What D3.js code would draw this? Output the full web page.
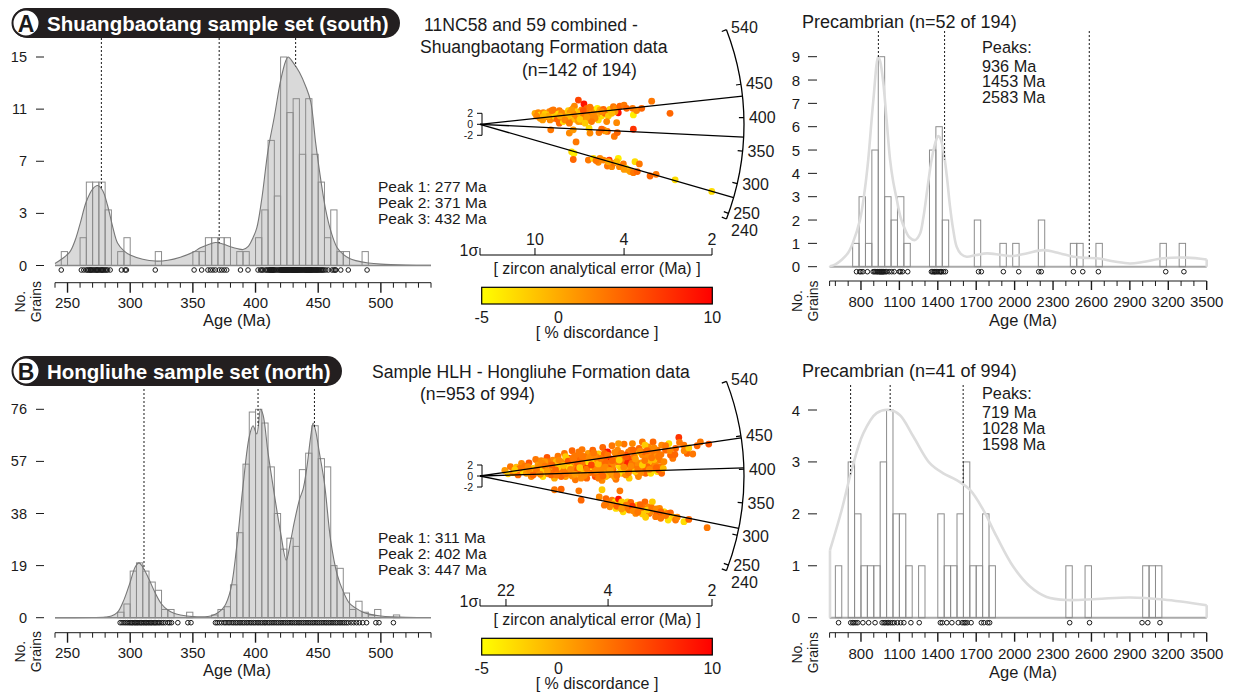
<!DOCTYPE html>
<html>
<head>
<meta charset="utf-8">
<script src="https://cdn.jsdelivr.net/npm/d3@7"></script>
<style>
body { margin: 0; background: #fff; }
text { font-family: "Liberation Sans", Arial, sans-serif; fill: #1a1a1a; }
</style>
</head>
<body>
<div class="canvas"></div>
<script>
// ---- histogram data (5 Ma bins, start age / count) ----
const southHist = [[245,1],[260,2],[265,6],[270,6],[275,6],[280,4],[290,1],[295,2],[320,1],[350,1],[355,1],[360,2],[365,2],[370,2],[375,2],[385,1],[390,1],[400,2],[405,4],[410,9],[415,5],[420,15],[425,11],[430,12],[435,8],[440,12],[445,8],[450,6],[455,2],[460,4],[465,1],[470,1],[485,1]];
const northHist = [[290,2],[295,5],[300,17],[305,20],[310,17],[315,13],[320,10],[325,3],[330,3],[345,2],[365,1],[370,3],[375,4],[380,12],[385,31],[390,56],[395,75],[400,76],[405,71],[410,55],[415,38],[420,25],[425,29],[430,26],[435,54],[440,60],[445,70],[450,58],[455,55],[460,19],[465,18],[470,9],[475,3],[480,6],[485,2],[490,1],[495,3],[510,1]];

// ---- density curves (age, count-scaled) ----
const southKde = [[240,0.15],[246,0.5],[252,1.0],[256,1.8],[260,3.0],[265,4.6],[270,5.5],[274,5.75],[278,5.4],[282,4.3],[286,2.8],[290,1.6],[295,1.05],[300,0.75],[310,0.45],[320,0.32],[330,0.38],[340,0.6],[350,0.95],[356,1.27],[362,1.5],[368,1.65],[374,1.55],[380,1.35],[386,1.2],[390,1.15],[394,1.35],[398,2.0],[401,2.7],[405,4.8],[410,8.3],[415,10.7],[420,13.3],[424,14.7],[426,15.0],[430,14.6],[435,13.9],[440,12.9],[444,11.8],[448,8.8],[452,6.2],[456,4.0],[460,2.5],[465,1.3],[470,0.8],[475,0.5],[480,0.35],[490,0.18],[500,0.1],[520,0.04],[540,0.02]];
const northKde = [[240,0.03],[270,0.05],[280,0.2],[285,0.6],[290,2],[295,6.5],[300,13],[304,18.5],[307,20],[310,18.5],[315,14],[320,9],[325,5],[330,2.8],[335,1.6],[340,1.0],[345,0.6],[350,0.4],[356,0.3],[362,0.45],[366,0.9],[370,1.8],[375,4],[380,10],[385,26],[390,48],[395,66],[398,70],[401,67],[404,76],[406,74],[410,60],[415,45],[420,31],[424.5,21],[428,28],[431,35],[435,43],[438,47],[441,55],[444,66],[446,71],[448,68],[451,60],[455,49],[460,28],[465,16],[470,9.5],[475,5.2],[480,3.5],[485,2.2],[490,1.4],[500,0.6],[510,0.3],[520,0.15],[540,0.05]];

const southPeaks = [277, 371, 432];
const northPeaks = [311, 402, 447];

// ---- single grain ages (dot rows) ----
const southAges = [245,261,263,265,266,267,268,268.5,269,270,271,272,273,273.5,274,275,276,277,277.5,278,279,280,281,282,284,293,296,297,320,351,357,362,364,366,368,371,373,375,377,388,394,402,404,405,406,408,409,410,411,411.5,412,412.8,413,413.6,414,414.5,415,416,417,418.2,419,420,420.3,420.8,421,421.4,421.7,422.1,422.4,422.9,423,423.3,423.8,424,424.4,424.8,425,425.6,426,426.4,427.1,427.5,428,428.6,429,429.3,429.8,430,430.5,430.8,431.3,431.6,432.1,432.4,432.9,433.2,433.6,434.1,434.5,435,435.7,436.2,436.8,437.5,438,438.9,439.4,440,440.3,440.9,441.2,441.8,442.1,442.7,443,443.6,444,444.4,444.8,445.2,446,446.6,447.3,448,448.5,449.1,449.7,450.4,451.2,452,452.9,453.6,454.5,456,458,461,462.5,463.5,464,468,474,489];
const northAges = [292,293.5,295,296.4,297.8,299.1,300.2,301.3,302.1,303.4,304.2,305.3,306.1,307.2,308.4,309.1,310.3,311.2,312.4,313.1,314.3,315.2,316.4,317.1,318.3,319.4,320.2,321.3,322.5,323.6,325.1,326.4,328,330.2,331.5,333,338,346,348.5,368,369.4,371.1,373,375,376.4,378.1,379.5,381.2,382.6,384.1,385.4,387,388.3,389.8,391.1,392.7,394,395.6,396.9,398.4,399.7,401.3,402.6,404.1,405.5,407,408.2,409.8,411.1,412.6,414,415.4,416.9,418.3,419.8,421.1,422.6,424,425.5,426.8,428.3,429.6,431.1,432.5,434,435.3,436.8,438.2,439.6,441.1,442.5,443.9,445.4,446.7,448.2,449.6,451,452.5,453.9,455.4,456.7,458.2,459.6,461,462.4,463.9,465.2,466.8,468.1,469.6,471,472.5,474,476.3,478.4,480.6,482.8,485.5,488.6,496,498.5,510];

// ---- Precambrian panels (50 Ma bins) ----
const southPreHist = [[735,1],[785,3],[835,1],[885,5],[935,9],[985,3],[1035,2],[1085,3],[1135,1],[1335,5],[1385,6],[1435,2],[1685,2],[1885,1],[1985,1],[2185,2],[2435,1],[2485,1],[2635,1],[3135,1],[3285,1]];
const northPreHist = [[600,1],[700,3],[750,2],[800,1],[850,1],[900,1],[950,3],[1000,4],[1050,2],[1100,2],[1150,1],[1250,1],[1400,2],[1450,1],[1500,1],[1550,2],[1600,3],[1650,1],[1700,1],[1750,2],[1800,1],[2400,1],[2550,1],[3000,1],[3050,1],[3100,1]];
const southPreKde = [[558,0.02],[600,0.1],[650,0.3],[700,0.6],[735,1.0],[792,2.0],[830,3.3],[857,4.6],[896,7.1],[935,9.0],[950,8.8],[974,7.9],[1000,6.3],[1027,4.6],[1050,3.7],[1079,2.9],[1110,2.1],[1144,1.6],[1180,1.25],[1222,1.14],[1260,1.4],[1287,2.1],[1320,3.4],[1352,4.6],[1380,5.3],[1404,5.6],[1420,5.5],[1443,5.0],[1470,3.9],[1495,2.6],[1520,1.6],[1547,0.86],[1580,0.55],[1625,0.43],[1700,0.5],[1782,0.57],[1900,0.5],[1990,0.46],[2100,0.58],[2224,0.71],[2350,0.58],[2459,0.43],[2550,0.38],[2641,0.36],[2780,0.22],[2901,0.14],[3000,0.2],[3162,0.36],[3344,0.39],[3500,0.31]];
const northPreKde = [[558,1.3],[649,2.07],[727,2.84],[818,3.55],[922,3.94],[1027,4.0],[1105,3.9],[1209,3.49],[1339,2.97],[1443,2.78],[1547,2.65],[1652,2.46],[1756,2.07],[1860,1.56],[1990,0.98],[2120,0.6],[2250,0.4],[2407,0.34],[2641,0.36],[2901,0.39],[3162,0.35],[3500,0.24]];
const southPrePeaks = [936, 1453, 2583];
const northPrePeaks = [719, 1028, 1598];
const southPreAges = [765,790,800,815,850,895,905,915,925,930,940,945,950,955,960,965,970,975,980,990,1000,1020,1040,1060,1100,1110,1125,1165,1350,1360,1370,1375,1380,1390,1400,1410,1420,1425,1430,1445,1460,1718,1740,1912,2032,2188,2208,2459,2532,2654,3180,3322];
const northPreAges = [625,720,735,745,760,775,815,860,910,965,980,990,1005,1015,1030,1045,1060,1085,1110,1135,1190,1255,1420,1435,1470,1510,1560,1590,1605,1615,1630,1660,1740,1760,1790,1805,2430,2585,2995,3040,3135];

// ---- radial plots: [precision (0-100), standardised estimate, % discordance] ----
const radialSouth = [[23.7,2.0,0],[25.1,2.1,2],[26.1,1.7,-3],[27.3,2.1,2],[28.7,1.4,3],[29.9,2.3,2],[30.5,1.9,-3],[31.6,1.1,3],[33.0,1.7,-2],[34.2,2.5,3],[34.2,0.2,4],[35.2,1.1,2],[35.9,2.0,-3],[37.1,1.4,1],[38.1,2.5,-2],[38.8,0.7,2],[39.5,1.7,-3],[40.2,2.9,3],[40.7,3.3,2],[41.7,2.3,-2],[42.4,4.4,6],[42.8,1.3,2],[43.8,2.6,2],[44.8,3.7,9],[45.3,1.7,-3],[46.0,2.9,4],[46.7,0.8,3],[47.4,2.3,-3],[48.1,1.4,2],[48.9,2.6,1],[49.6,1.7,-2],[50.6,2.9,-4],[51.4,2.1,2],[52.4,1.5,-3],[53.9,2.0,4],[54.6,2.3,3],[56.0,2.7,-2],[57.5,3.2,3],[58.6,2.9,2],[59.6,2.1,9],[60.3,3.3,4],[62.1,3.5,3],[66.1,1.7,-4],[65.8,2.9,3],[67.5,2.5,2],[69.7,2.9,4],[74.0,4.2,3],[81.9,2.0,4],[35.9,0.5,-3],[30.2,0.8,2],[37.4,1.1,1],[40.9,0.9,-1],[43.8,0.5,2],[31.6,2.6,3],[28.0,1.9,-2],[47.1,1.7,2],[50.3,1.4,0],[25.9,1.1,1],[33.8,1.9,-3],[41.7,1.4,2],[38.8,2.1,1],[43.1,2.0,-1],[46.0,2.1,3],[48.9,1.9,2],[51.7,2.6,0],[53.2,2.7,4],[35.9,1.3,1],[32.3,1.4,-2],[40.2,1.9,2],[44.5,2.5,5],[47.4,3.1,3],[38.1,1.5,-1],[35.2,2.1,2],[29.5,1.5,0],[51.0,0.8,-3],[42.4,0.5,1],[49.6,1.1,2],[55.3,1.5,-2],[44.5,1.3,3],[39.5,2.6,1],[33.3,0.9,4],[27.3,1.4,-1],[24.4,1.5,2],[30.9,2.5,3],[58.2,2.3,1],[30.5,-1.0,3],[38.5,-1.6,2],[47.0,-0.7,-3],[51.3,-1.5,3],[53.2,-1.0,2],[54.9,-1.3,4],[57.9,-2.2,3],[58.9,0.3,2],[59.2,-1.5,4],[66.1,-0.9,7],[41.4,-3.2,3],[53.9,-1.2,1],[39.5,-5.0,-3],[40.5,-5.3,-4],[40.2,-6.4,4],[46.7,-6.5,3],[48.9,-6.2,-3],[51.0,-6.9,2],[53.2,-6.5,2],[54.9,-7.6,3],[55.7,-6.5,7],[56.8,-7.7,2],[57.5,-7.1,3],[59.6,-6.2,-4],[60.1,-7.7,2],[61.8,-7.2,3],[62.9,-8.0,-3],[63.9,-8.3,-2],[64.7,-8.6,1],[66.1,-8.8,3],[66.8,-6.8,-3],[67.8,-8.6,4],[68.7,-7.2,3],[73.3,-9.4,4],[75.9,-9.1,3],[84.1,-10.1,-3],[99.9,-12.2,-3],[51.7,-6.2,2],[58.9,-6.8,-1],[62.1,-8.2,1],[50.0,-6.6,3],[55.3,-6.8,0],[47.4,-1.6,2],[52.4,-0.9,4],[40.2,-1.0,1],[34.5,1.5,0],[36.6,0.8,2],[43.1,0.9,-2],[48.1,0.5,3],[46.0,1.3,1],[52.4,2.3,2],[63.2,2.9,4],[56.8,2.0,-1],[27.0,0.8,1],[38.5,0.2,3],[45.3,0.2,-2],[54.6,0.5,2]];
const radialNorth = [[10.7,1.0,1],[12.1,0.4,-2],[13.1,1.7,3],[14.3,0.6,2],[15.7,1.6,-1],[16.4,0.2,4],[17.9,2.3,2],[18.6,0.8,-3],[19.3,1.8,3],[20,0.5,1],[21.1,2.4,5],[22.1,-0.1,2],[22.9,1.4,-2],[24,3.0,3],[25,2.0,1],[25.7,0.6,4],[26.4,2.8,2],[27.1,-0.1,-3],[27.9,1.4,3],[28.9,3.4,5],[29.3,0.4,2],[30,2.3,-1],[30.7,1.1,3],[31.4,2.9,2],[32.1,-0.4,0],[32.9,1.8,4],[33.6,3.6,3],[34.3,0.5,-2],[35,2.6,2],[35.7,1.4,6],[36.4,4.1,3],[36.9,-0.1,1],[37.4,2.3,-3],[38.3,3.2,8],[38.9,0.8,2],[39.7,4.6,4],[40.3,1.7,1],[41.1,-0.7,3],[41.4,2.8,-2],[42.1,3.8,3],[42.6,0.5,2],[43.1,2.0,5],[44,4.8,3],[44.6,1.2,-1],[45.4,3.0,2],[46,-0.4,4],[46.6,4.1,1],[47.1,2.3,3],[47.9,0.8,-3],[48.6,4.7,4],[49.3,3.2,2],[49.7,-0.1,6],[50.3,1.7,1],[51.1,4.0,-2],[51.7,2.6,3],[52.6,-0.8,2],[52.9,5.2,4],[53.6,1.2,0],[54.3,3.5,3],[55,4.4,9],[55.4,0.2,2],[56,2.3,-2],[56.9,5.5,3],[57.4,1.1,4],[58,3.0,1],[58.6,-0.6,3],[59.3,4.7,2],[60,1.8,-3],[60.7,3.6,5],[61.4,0.5,2],[62.1,5.8,3],[62.9,2.6,7],[63.6,1.2,1],[64,4.4,3],[64.3,-0.4,-2],[65,3.0,4],[65.7,5.9,2],[66.4,1.6,3],[67.1,4.1,-3],[67.9,0.4,2],[68.6,5.0,4],[69.3,2.4,1],[70,6.2,3],[70.7,1.1,5],[71.4,3.5,-2],[72.6,5.3,2],[73.6,2.3,3],[74.6,6.2,4],[75.7,4.1,1],[76.4,0.8,-3],[77.4,2.9,3],[78.3,5.6,2],[80,4.7,4],[81.4,5.9,-3],[83.1,3.2,3],[84.3,5.0,4],[85.7,7.0,7],[87.9,5.6,3],[89.3,4.1,4],[91.7,4.0,3],[93.6,5.5,4],[98.6,5.8,5],[25.7,1.7,2],[27.1,1.1,-2],[28.6,2.0,3],[30,0.8,4],[31.4,1.7,1],[32.9,2.6,-1],[34.3,1.2,3],[35.7,2.3,2],[37.1,1.1,5],[38.6,2.0,-3],[40,0.8,3],[41.4,1.6,2],[42.9,2.9,4],[44.3,0.2,1],[45.7,1.7,8],[47.1,0.6,3],[48.6,2.3,-2],[50,3.5,2],[51.4,0.5,4],[52.9,2.0,3],[54.3,-0.1,-1],[55.7,3.2,9],[57.1,2.0,2],[58.6,3.8,3],[60,0.5,-3],[61.4,2.3,4],[62.9,0.2,2],[64.3,3.2,6],[65.7,1.1,3],[67.1,2.6,-2],[68.6,1.7,3],[70,3.8,2],[71.4,0.5,4],[72.9,2.6,-1],[74.3,1.4,3],[75.7,2.0,2],[77.1,1.1,5],[21.4,1.1,2],[23.6,0.5,-1],[29.3,2.6,3],[32.1,0.5,2],[35,-0.1,4],[37.9,3.0,-2],[40.7,3.6,3],[43.6,-0.4,2],[46.4,2.6,-3],[49.3,0.4,4],[52.1,1.2,2],[55,2.3,3],[57.9,-0.1,1],[60.7,1.4,-2],[63.6,2.3,8],[66.4,3.5,3],[69.3,0.6,2],[72.1,1.7,4],[75,3.0,-1],[77.9,1.7,3],[24.3,1.1,3],[27.9,2.6,1],[30.7,0.2,4],[33.6,1.6,-2],[36.4,0.8,3],[39.3,2.6,2],[42.1,1.2,5],[45,3.5,3],[47.9,1.7,-3],[50.7,2.9,2],[53.6,4.1,4],[56.4,0.6,1],[59.3,2.6,3],[62.1,1.1,-2],[65,4.7,3],[67.9,2.3,2],[70.7,4.4,4],[73.6,0.5,-3],[76.4,4.7,3],[79.3,2.6,2],[82.1,3.8,4],[39.7,0.0,2],[45.4,0.8,-1],[51.1,-0.4,3],[56.9,1.6,2],[62.7,3.8,6],[68.3,-0.1,2],[74,4.4,3],[36.9,3.5,-2],[42.6,4.4,3],[48.3,3.8,2],[54,2.6,4],[59.7,5.9,1],[65.4,2.3,3],[71.1,5.6,-2],[76.9,3.5,3],[26.9,2.3,2],[32.6,1.1,4],[38.3,1.7,-3],[44,2.3,3],[49.7,1.2,2],[55.4,1.4,5],[61.1,3.2,3],[66.9,0.8,-2],[72.6,3.6,2],[78.3,0.5,4],[17.1,1.4,3],[15,1.1,-2],[20.7,1.7,2],[22.9,0.2,4],
  [26,0.3,2],[28,1.8,3],[29,0.9,1],[31,2.0,4],[33,0.2,3],[34,2.9,2],[36,1.9,-1],[37,0.4,3],[38,2.7,5],[39,1.2,2],[40,3.2,3],[41,0.3,1],[42,2.3,4],[43,1.5,-2],[44,3.6,3],[45,0.1,2],[46,1.3,3],[47,3.3,2],[48,2.0,6],[49,4.2,3],[50,0.9,2],[51,2.2,-1],[52,3.2,3],[53,0.0,4],[54,1.6,2],[55,3.8,3],[56,1.0,1],[57,2.8,4],[58,4.3,2],[59,0.1,3],[60,2.9,-2],[61,4.1,3],[62,1.6,2],[63,3.5,5],[64,0.6,3],[65,1.8,2],[66,4.7,4],[67,3.1,1],[68,1.2,3],[69,4.5,2],[70,2.0,-2],[71,2.8,3],[72,4.6,4],[73,1.2,2],[74,3.3,3],[75,5.1,2],[76,1.5,4],[78,3.9,3],[79,1.4,-1],[80,5.5,3],[82,4.6,2],[84,3.9,4],[86,6.1,3],[88,4.6,2],[90,5.1,-2],[95,6.2,3],
  [32.1,-2.5,3],[35,-2.4,4],[42.6,-2.7,3],[43.6,-4.4,4],[52.6,-2.5,-2],[60.3,-2.7,3],[51.4,-3.8,2],[54.3,-4.1,4],[56.9,-4.4,3],[58.3,-4.7,-3],[59.7,-4.2,9],[60.7,-5.3,2],[62.1,-5.1,3],[63.6,-4.7,-2],[65,-4.8,4],[66.4,-5.7,2],[67.9,-5.3,-3],[69.3,-6.2,3],[71.1,-4.7,4],[72.6,-5.6,2],[74.3,-4.7,-2],[75,-6.2,3],[76.4,-6.7,6],[77.4,-5.9,2],[78.6,-7.1,4],[79.3,-6.5,-3],[80.7,-6.8,3],[82.1,-6.7,4],[83.1,-7.5,-2],[84.3,-8.0,3],[87.9,-8.3,-3],[90,-7.9,4],[97.9,-9.4,3],[61.7,-6.5,-3],[64.3,-6.2,3],[67.1,-6.8,2],[70,-6.9,-2],[72.9,-6.8,4],[75.7,-7.4,3],[56,-5.6,2],[58.6,-5.9,-3],[53.6,-5.3,3],[71.4,-7.5,-2],[77.9,-7.7,3],[81.1,-8.0,-3],[62.9,-5.7,3],[65.7,-5.5,7],[68.6,-5.9,2],[61.1,-4.7,-2],[70,-5.6,3],[73.6,-6.5,2],
  [55,-4.9,3],[57,-5.1,2],[59,-5.5,4],[63,-5.3,3],[66,-6.3,2],[69,-5.2,4],[72,-6.2,-2],[74,-5.8,3],[76,-6.0,2],[78,-6.5,4],[80,-7.2,3],[85,-7.5,2],[68,-6.6,3],[61,-6.0,1]];

const arcTicks = [540, 450, 400, 350, 300, 250, 240];
const zTicks = [2, 0, -2];
const errTicksSouth = [[23.7, '10'], [62.1, '4'], [100, '2']];
const errTicksNorth = [[11.2, '22'], [55.2, '4'], [100, '2']];
const discTicks = [-5, 0, 10];

const southYTicks = [0, 3.75, 7.5, 11.25, 15];
const southYLabels = ['0', '3', '7', '11', '15'];
const northYTicks = [0, 19, 38, 57, 76];
const northYLabels = ['0', '19', '38', '57', '76'];
const southPreYTicks = [0, 1, 2, 3, 4, 5, 6, 7, 8, 9];
const northPreYTicks = [0, 1, 2, 3, 4];

// ---- layout ----
const dims = { width: 1235, height: 696 };
const centralAge = 390;
const ageSlope = 0.00256;
const arcRadius = 264;

const svg = d3.select('.canvas').append('svg')
    .attr('width', dims.width)
    .attr('height', dims.height);

const ink = '#1a1a1a';
const discColour = d3.scaleLinear().domain([-5, 10]).range(['#ffff00', '#ff0000']).interpolate(d3.interpolateRgb);

const addText = (g, x, y, str, size, opts = {}) => g.append('text')
    .attr('x', x).attr('y', y)
    .attr('font-size', size)
    .attr('dominant-baseline', 'central')
    .attr('text-anchor', opts.anchor || 'start')
    .attr('font-weight', opts.weight || 'normal')
    .style('fill', opts.fill || ink)
    .text(str);

const kdeAt = (kde, age) => {
    const i = d3.bisector(d => d[0]).left(kde, age);
    if (i <= 0) return kde[0][1];
    if (i >= kde.length) return kde[kde.length - 1][1];
    const a = kde[i - 1], b = kde[i];
    return a[1] + (b[1] - a[1]) * (age - a[0]) / (b[0] - a[0]);
};

const banner = (y, w, letter, label) => {
    svg.append('rect').attr('x', 12).attr('y', y).attr('width', w).attr('height', 30)
        .attr('rx', 15).attr('fill', '#231f20');
    svg.append('circle').attr('cx', 26).attr('cy', y + 15).attr('r', 13.5)
        .attr('fill', '#fff').attr('stroke', '#231f20').attr('stroke-width', 2);
    addText(svg, 26, y + 16, letter, 23, { anchor: 'middle', weight: 'bold' });
    addText(svg, 47, y + 15.5, label, 20.5, { weight: 'bold', fill: '#fff' });
};

const noGrains = (x1, x2, y) => {
    [['No.', x1], ['Grains', x2]].forEach(([s, x]) => {
        svg.append('text')
            .attr('transform', `translate(${x},${y}) rotate(-90)`)
            .attr('font-size', 14)
            .attr('text-anchor', 'middle')
            .attr('dominant-baseline', 'central')
            .style('fill', ink)
            .text(s);
    });
};

// ---- Phanerozoic age histogram (left) ----
const drawAgeHist = cfg => {
    const g = svg.append('g');
    const x = d3.scaleLinear().domain([240, 540]).range([55, 431]);
    const y = d3.scaleLinear().domain([0, cfg.yTicks[cfg.yTicks.length - 1]]).range([cfg.y0, cfg.yTop]);

    const area = d3.area().x(d => x(d[0])).y0(cfg.y0).y1(d => y(d[1])).curve(d3.curveCatmullRom.alpha(0.5));
    const line = d3.line().x(d => x(d[0])).y(d => y(d[1])).curve(d3.curveCatmullRom.alpha(0.5));

    g.append('path').attr('d', area(cfg.kde)).attr('fill', '#d9d9d9');
    g.selectAll('.bar').data(cfg.hist).enter().append('rect')
        .attr('x', d => x(d[0])).attr('width', d => x(d[0] + 5) - x(d[0]))
        .attr('y', d => y(d[1])).attr('height', d => cfg.y0 - y(d[1]))
        .attr('fill', 'none').attr('stroke', '#8c8c8c').attr('stroke-width', 1);
    g.append('path').attr('d', line(cfg.kde)).attr('fill', 'none').attr('stroke', '#777').attr('stroke-width', 1.1);
    g.append('line').attr('x1', x(240)).attr('x2', x(540)).attr('y1', cfg.y0).attr('y2', cfg.y0)
        .attr('stroke', '#888').attr('stroke-width', 1.4);

    // peak markers
    g.selectAll('.peak').data(cfg.peaks).enter().append('line')
        .attr('x1', d => x(d)).attr('x2', d => x(d))
        .attr('y1', cfg.peakTop).attr('y2', d => y(kdeAt(cfg.kde, d)))
        .attr('stroke', ink).attr('stroke-width', 1).attr('stroke-dasharray', '2,2');

    // grains
    g.selectAll('.grain').data(cfg.ages).enter().append('circle')
        .attr('cx', d => x(d)).attr('cy', cfg.dotsY).attr('r', 2.3)
        .attr('fill', 'none').attr('stroke', ink).attr('stroke-width', 1);

    // y ticks
    cfg.yTicks.forEach((t, i) => {
        g.append('line').attr('x1', 36).attr('x2', 44).attr('y1', y(t)).attr('y2', y(t)).attr('stroke', ink);
        addText(g, 27, y(t), cfg.yLabels[i], 14.5, { anchor: 'end' });
    });

    // x axis
    g.append('line').attr('x1', x(240)).attr('x2', x(540)).attr('y1', cfg.axisY).attr('y2', cfg.axisY).attr('stroke', ink);
    d3.range(240, 541, 10).forEach(t => {
        const major = t % 50 === 0;
        g.append('line').attr('x1', x(t)).attr('x2', x(t)).attr('y1', cfg.axisY)
            .attr('y2', cfg.axisY + (major ? 10 : 5)).attr('stroke', ink).attr('stroke-width', major ? 1.4 : 1);
        if (major && t <= 500) addText(g, x(t), cfg.axisY + 19.5, t, 15, { anchor: 'middle' });
    });
    addText(g, 237, cfg.axisY + 37.5, 'Age (Ma)', 16.5, { anchor: 'middle' });
    noGrains(20, 36, cfg.axisY + 19);

    cfg.peaks.forEach((p, i) => addText(g, 378, cfg.peakTextY + i * 15.8, `Peak ${i + 1}: ${p} Ma`, 15.5));
};

// ---- Precambrian histogram (right) ----
const drawPreHist = cfg => {
    const g = svg.append('g');
    const x = d3.scaleLinear().domain([555, 3500]).range([829.6, 1206.7]);
    const y = d3.scaleLinear().domain([0, cfg.yTicks[cfg.yTicks.length - 1]]).range([cfg.y0, cfg.yTop]);
    const line = d3.line().x(d => x(d[0])).y(d => y(d[1])).curve(d3.curveCatmullRom.alpha(0.5));

    g.append('line').attr('x1', x(555)).attr('x2', x(3500)).attr('y1', cfg.y0).attr('y2', cfg.y0)
        .attr('stroke', '#aaa').attr('stroke-width', 2);
    g.selectAll('.bar').data(cfg.hist).enter().append('rect')
        .attr('x', d => x(d[0])).attr('width', d => x(d[0] + 50) - x(d[0]))
        .attr('y', d => y(d[1])).attr('height', d => cfg.y0 - y(d[1]))
        .attr('fill', 'none').attr('stroke', '#8c8c8c').attr('stroke-width', 1);
    const k = cfg.kde;
    g.append('path').attr('d', line(k)).attr('fill', 'none').attr('stroke', '#dcdcdc').attr('stroke-width', 2.6);
    [k[0], k[k.length - 1]].forEach(d => {
        g.append('line').attr('x1', x(d[0])).attr('x2', x(d[0])).attr('y1', cfg.y0).attr('y2', y(d[1]))
            .attr('stroke', '#dcdcdc').attr('stroke-width', 2.6);
    });

    g.selectAll('.peak').data(cfg.peaks).enter().append('line')
        .attr('x1', d => x(d)).attr('x2', d => x(d))
        .attr('y1', cfg.peakTop).attr('y2', d => y(kdeAt(k, d)))
        .attr('stroke', ink).attr('stroke-width', 1).attr('stroke-dasharray', '2,2');

    g.selectAll('.grain').data(cfg.ages).enter().append('circle')
        .attr('cx', d => x(d)).attr('cy', cfg.dotsY).attr('r', 2.3)
        .attr('fill', 'none').attr('stroke', ink).attr('stroke-width', 1);

    cfg.yTicks.forEach(t => {
        g.append('line').attr('x1', 808).attr('x2', 817).attr('y1', y(t)).attr('y2', y(t)).attr('stroke', ink);
        addText(g, 800, y(t), t, 15, { anchor: 'end' });
    });

    g.append('line').attr('x1', x(555)).attr('x2', x(3500)).attr('y1', cfg.axisY).attr('y2', cfg.axisY).attr('stroke', ink);
    d3.range(600, 3501, 100).forEach(t => {
        const major = (t - 800) % 300 === 0 && t >= 800;
        g.append('line').attr('x1', x(t)).attr('x2', x(t)).attr('y1', cfg.axisY)
            .attr('y2', cfg.axisY + (major ? 9 : 5)).attr('stroke', ink).attr('stroke-width', major ? 1.4 : 1);
        if (major) addText(g, x(t), cfg.axisY + 20.5, t, 15, { anchor: 'middle' });
    });
    g.append('line').attr('x1', x(555)).attr('x2', x(555)).attr('y1', cfg.axisY).attr('y2', cfg.axisY + 5).attr('stroke', ink);
    addText(g, 1023, cfg.axisY + 39, 'Age (Ma)', 16.5, { anchor: 'middle' });
    noGrains(797, 813, cfg.axisY + 20);

    addText(g, 802, cfg.titleY, cfg.title, 18);
    addText(g, 982, cfg.peakTextY, 'Peaks:', 16.3);
    cfg.peaks.forEach((p, i) => addText(g, 982, cfg.peakTextY + 19 + i * 15.6, `${p} Ma`, 16.3));
};

// ---- radial plot (middle) ----
const rayAngle = t => Math.atan(ageSlope * (centralAge - t));

const drawRadial = cfg => {
    const g = svg.append('g');
    const o = cfg.origin;
    const px = d3.scaleLinear().domain([0, 100]).range([o.x, o.x + 232]);
    const py = d3.scaleLinear().domain([-2, 2]).range([o.y + 11, o.y - 11]);

    // points
    g.selectAll('.pt').data(cfg.points).enter().append('circle')
        .attr('cx', d => px(d[0])).attr('cy', d => py(d[1])).attr('r', 3.4)
        .attr('fill', d => discColour(d[2]));

    // peak rays
    cfg.peaks.forEach(t => {
        const a = rayAngle(t);
        g.append('line').attr('x1', o.x).attr('y1', o.y)
            .attr('x2', o.x + arcRadius * Math.cos(a)).attr('y2', o.y + arcRadius * Math.sin(a))
            .attr('stroke', '#000').attr('stroke-width', 1.3);
    });

    // age arc
    const a0 = rayAngle(arcTicks[0]), a1 = rayAngle(arcTicks[arcTicks.length - 1]);
    const p = d3.path();
    p.moveTo(o.x + arcRadius * Math.cos(a0), o.y + arcRadius * Math.sin(a0));
    p.arc(o.x, o.y, arcRadius, a0, a1, false);
    g.append('path').attr('d', p.toString()).attr('fill', 'none').attr('stroke', '#000').attr('stroke-width', 1.3);
    arcTicks.forEach((t, i) => {
        const a = rayAngle(t);
        g.append('line')
            .attr('x1', o.x + (arcRadius - 5) * Math.cos(a)).attr('y1', o.y + (arcRadius - 5) * Math.sin(a))
            .attr('x2', o.x + arcRadius * Math.cos(a)).attr('y2', o.y + arcRadius * Math.sin(a))
            .attr('stroke', '#000').attr('stroke-width', 1.2);
        const shift = i === arcTicks.length - 1 ? 10 : (i === arcTicks.length - 2 ? -1.5 : 0);
        addText(g, o.x + (arcRadius + 5) * Math.cos(a), o.y + (arcRadius + 5) * Math.sin(a) + shift, t, 16);
    });

    // standardised estimate scale
    g.append('line').attr('x1', o.x + 2).attr('x2', o.x + 2).attr('y1', py(2)).attr('y2', py(-2)).attr('stroke', '#000');
    zTicks.forEach(z => {
        g.append('line').attr('x1', o.x - 3).attr('x2', o.x + 2).attr('y1', py(z)).attr('y2', py(z)).attr('stroke', '#000');
        addText(g, o.x - 7, py(z), z, 10.5, { anchor: 'end' });
    });

    // precision axis
    const ay = cfg.errAxisY;
    g.append('line').attr('x1', px(0)).attr('x2', px(100)).attr('y1', ay).attr('y2', ay).attr('stroke', '#000');
    g.append('line').attr('x1', px(0)).attr('x2', px(0)).attr('y1', ay).attr('y2', ay - 7).attr('stroke', '#000');
    cfg.errTicks.forEach(([v, lab]) => {
        g.append('line').attr('x1', px(v)).attr('x2', px(v)).attr('y1', ay).attr('y2', ay - 7).attr('stroke', '#000');
        addText(g, px(v), ay - 15.5, lab, 16, { anchor: 'middle' });
    });
    addText(g, 469, ay - 5, '1σ', 16, { anchor: 'middle' });
    addText(g, 597, ay + 13.5, '[ zircon analytical error (Ma) ]', 16, { anchor: 'middle' });

    // discordance colour bar
    const cx = d3.scaleLinear().domain([-5, 10]).range([481.7, 712.3]);
    const gradId = 'grad' + cfg.id;
    const grad = svg.append('defs').append('linearGradient').attr('id', gradId);
    grad.append('stop').attr('offset', '0%').attr('stop-color', discColour(-5));
    grad.append('stop').attr('offset', '100%').attr('stop-color', discColour(10));
    g.append('rect').attr('x', cx(-5)).attr('y', cfg.barY).attr('width', cx(10) - cx(-5)).attr('height', 16.7)
        .attr('fill', `url(#${gradId})`).attr('stroke', '#000').attr('stroke-width', 1.2);
    discTicks.forEach(t => addText(g, cx(t), cfg.barY + 30.4, t, 16, { anchor: 'middle' }));
    addText(g, 597, cfg.barY + 45.4, '[ % discordance ]', 16, { anchor: 'middle' });

    cfg.title.forEach(([s, tx, ty]) => addText(g, tx, ty, s, 17.6));
};

// ---- panel A ----
banner(8, 388, 'A', 'Shuangbaotang sample set (south)');
drawAgeHist({ hist: southHist, kde: southKde, peaks: southPeaks, ages: southAges,
    yTicks: southYTicks, yLabels: southYLabels, y0: 265.5, yTop: 57, axisY: 282.7,
    dotsY: 270, peakTop: 38, peakTextY: 186.7 });
drawRadial({ id: 'A', origin: { x: 480, y: 124.3 }, points: radialSouth, peaks: southPeaks,
    errTicks: errTicksSouth, errAxisY: 255, barY: 287.3,
    title: [['11NC58 and 59 combined -', 424, 25], ['Shuangbaotang Formation data', 420, 47], ['(n=142 of 194)', 522, 70]] });
drawPreHist({ hist: southPreHist, kde: southPreKde, peaks: southPrePeaks, ages: southPreAges,
    yTicks: southPreYTicks, y0: 266.7, yTop: 56.7, axisY: 281, dotsY: 271.7, peakTop: 31,
    title: 'Precambrian (n=52 of 194)', titleY: 22, peakTextY: 46.7 });

// ---- panel B ----
banner(356, 330, 'B', 'Hongliuhe sample set (north)');
drawAgeHist({ hist: northHist, kde: northKde, peaks: northPeaks, ages: northAges,
    yTicks: northYTicks, yLabels: northYLabels, y0: 617.7, yTop: 409.3, axisY: 632.7,
    dotsY: 622.7, peakTop: 389, peakTextY: 537.7 });
drawRadial({ id: 'B', origin: { x: 480, y: 476 }, points: radialNorth, peaks: northPeaks,
    errTicks: errTicksNorth, errAxisY: 606, barY: 638.3,
    title: [['Sample HLH - Hongliuhe Formation data', 372, 372], ['(n=953 of 994)', 420, 394]] });
drawPreHist({ hist: northPreHist, kde: northPreKde, peaks: northPrePeaks, ages: northPreAges,
    yTicks: northPreYTicks, y0: 617.7, yTop: 410, axisY: 632.7, dotsY: 622.7, peakTop: 385,
    title: 'Precambrian (n=41 of 994)', titleY: 370.7, peakTextY: 393.3 });
</script>
</body>
</html>
